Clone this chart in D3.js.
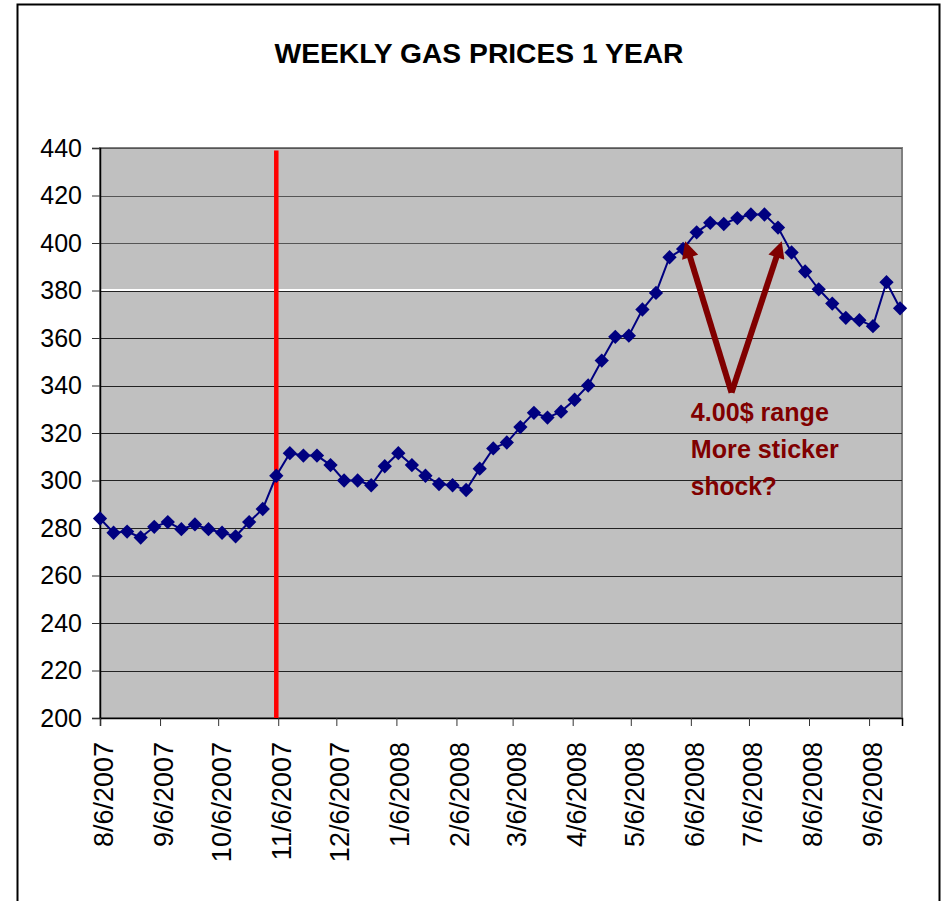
<!DOCTYPE html>
<html>
<head>
<meta charset="utf-8">
<script src="https://cdn.jsdelivr.net/npm/d3@7"></script>
<style>
  body { margin: 0; background: #fff; }
  text { font-family: Arial, "Liberation Sans", sans-serif; }
</style>
</head>
<body>
<div id="chart"></div>
<script>
// chart size
var width = 947, height = 901;
var margin = {top: 148, right: 45, bottom: 183, left: 100};

// weekly prices (cents per gallon), Mondays from 8/6/2007
var startWeek = "2007-08-06";
var prices = [284, 278, 278.5, 276, 280.5, 282.5, 279.5, 281.5, 279.5, 278,
              276.5, 282.5, 288, 302, 311.5, 310.5, 310.5, 306.5, 300, 300,
              298, 306, 311.5, 306.5, 302, 298.5, 298, 296, 305, 313.5,
              316, 322.5, 328.5, 326.5, 329, 334, 340, 350.5, 360.5, 361,
              372, 379, 394, 397.5, 404.5, 408.5, 408, 410.5, 412, 412,
              406.5, 396, 388, 380.5, 374.5, 368.5, 367.5, 365, 383.5, 372.5];

var xTickLabels = ["8/6/2007", "9/6/2007", "10/6/2007", "11/6/2007", "12/6/2007",
                   "1/6/2008", "2/6/2008", "3/6/2008", "4/6/2008", "5/6/2008",
                   "6/6/2008", "7/6/2008", "8/6/2008", "9/6/2008"];
var yTicks = [200, 220, 240, 260, 280, 300, 320, 340, 360, 380, 400, 420, 440];

// annotations
var redLineDate = "2007-11-05";
var redLineTop = 439;
var arrowLeftTip = ["2008-06-03", 401];
var arrowBase = ["2008-06-27", 337];
var arrowRightTip = ["2008-07-23", 401];
var noteAnchor = ["2008-06-06", 325];
var noteLines = ["4.00$ range", "More sticker", "shock?"];
var noteWidths = [138, 148, 86];

var parseDate = d3.timeParse("%Y-%m-%d");
var parseLabel = d3.timeParse("%m/%d/%Y");

var data = prices.map(function(v, i) {
  return {date: d3.timeDay.offset(parseDate(startWeek), i * 7), value: v};
});

var x = d3.scaleTime()
    .domain([parseDate("2007-08-06"), parseDate("2008-09-23")])
    .range([margin.left, width - margin.right]);

var y = d3.scaleLinear()
    .domain([200, 440])
    .range([height - margin.bottom, margin.top]);

var svg = d3.select("#chart")
  .append("svg")
  .attr("width", width)
  .attr("height", height);

// outer chart frame
svg.append("rect")
  .attr("x", 17.5).attr("y", 4.5)
  .attr("width", 922).attr("height", 1000)
  .attr("fill", "#fff")
  .attr("stroke", "#000")
  .attr("stroke-width", 2);

// title
svg.append("text")
  .attr("x", 479).attr("y", 63)
  .attr("text-anchor", "middle")
  .attr("font-size", 28)
  .attr("font-weight", "bold")
  .attr("textLength", 409)
  .attr("lengthAdjust", "spacingAndGlyphs")
  .text("WEEKLY GAS PRICES 1 YEAR");

// plot area
svg.append("rect")
  .attr("x", x.range()[0]).attr("y", y(440))
  .attr("width", x.range()[1] - x.range()[0])
  .attr("height", y(200) - y(440))
  .attr("fill", "#c0c0c0")
  .attr("stroke", "#808080")
  .attr("stroke-width", 2);

// gridlines
svg.append("g")
  .selectAll("line")
  .data(yTicks.filter(function(d) { return d > 200; }))
  .enter().append("line")
  .attr("x1", x.range()[0]).attr("x2", x.range()[1])
  .attr("y1", function(d) { return Math.round(y(d)) + 0.5; })
  .attr("y2", function(d) { return Math.round(y(d)) + 0.5; })
  .attr("stroke", function(d) { return d >= 400 ? "#555" : "#222"; })
  .attr("stroke-width", 1);

// the odd white gridline at 380
svg.append("line")
  .attr("x1", x.range()[0]).attr("x2", x.range()[1])
  .attr("y1", Math.round(y(380)) - 1).attr("y2", Math.round(y(380)) - 1)
  .attr("stroke", "#fff").attr("stroke-width", 2);

// y axis
var yAxis = d3.axisLeft(y)
  .tickValues(yTicks)
  .tickSize(8)
  .tickPadding(10);

var gy = svg.append("g")
  .attr("transform", "translate(" + x.range()[0] + ",0)")
  .call(yAxis);
gy.select(".domain").attr("stroke", "#000").attr("stroke-width", 1.5);
gy.selectAll(".tick line").attr("stroke", "#333");
gy.selectAll("text")
  .attr("font-size", 25)
  .attr("font-family", "Arial, 'Liberation Sans', sans-serif")
  .attr("fill", "#000");

// x axis
var xAxis = d3.axisBottom(x)
  .tickValues(xTickLabels.map(function(s) { return parseLabel(s); }))
  .tickFormat(function(d, i) { return xTickLabels[i]; })
  .tickSize(8);

var gx = svg.append("g")
  .attr("transform", "translate(0," + y(200) + ")")
  .call(xAxis);
gx.select(".domain").attr("stroke", "#000").attr("stroke-width", 1.5);
gx.selectAll(".tick line").attr("stroke", "#333");
gx.selectAll("text")
  .attr("font-size", 27)
  .attr("font-family", "Arial, 'Liberation Sans', sans-serif")
  .attr("fill", "#000")
  .attr("text-anchor", "end")
  .attr("transform", "translate(3,24) rotate(-90)")
  .attr("x", 0).attr("y", 0)
  .attr("dy", "0.35em");

// red marker line
svg.append("line")
  .attr("x1", x(parseDate(redLineDate))).attr("x2", x(parseDate(redLineDate)))
  .attr("y1", y(redLineTop)).attr("y2", y(200))
  .attr("stroke", "#ff0000")
  .attr("stroke-width", 4.5);

// price line
var line = d3.line()
  .x(function(d) { return x(d.date); })
  .y(function(d) { return y(d.value); });

svg.append("path")
  .datum(data)
  .attr("d", line)
  .attr("fill", "none")
  .attr("stroke", "#000080")
  .attr("stroke-width", 2);

// diamond markers
var diamond = d3.symbol().type(d3.symbolDiamond2).size(130);
svg.append("g")
  .selectAll("path")
  .data(data)
  .enter().append("path")
  .attr("d", diamond)
  .attr("transform", function(d) { return "translate(" + x(d.date) + "," + y(d.value) + ")"; })
  .attr("fill", "#000080");

// arrows
var arrowColor = "#800000";
svg.append("defs").append("marker")
  .attr("id", "head")
  .attr("viewBox", "0 0 10 10")
  .attr("refX", 2).attr("refY", 5)
  .attr("markerWidth", 3.3).attr("markerHeight", 2.8)
  .attr("orient", "auto")
  .append("path")
  .attr("d", "M0,0 L10,5 L0,10 Z")
  .attr("fill", arrowColor);

function pt(p) { return [x(parseDate(p[0])), y(p[1])]; }

[arrowLeftTip, arrowRightTip].forEach(function(tip) {
  var b = pt(arrowBase), t = pt(tip);
  // stop the shaft a bit short so the head lands on the tip
  var dx = t[0] - b[0], dy = t[1] - b[1], len = Math.sqrt(dx * dx + dy * dy);
  var k = (len - 14) / len;
  svg.append("line")
    .attr("x1", b[0]).attr("y1", b[1])
    .attr("x2", b[0] + dx * k).attr("y2", b[1] + dy * k)
    .attr("stroke", arrowColor)
    .attr("stroke-width", 6)
    .attr("marker-end", "url(#head)");
});

// annotation text
var note = svg.append("text")
  .attr("x", x(parseDate(noteAnchor[0])))
  .attr("y", y(noteAnchor[1]))
  .attr("font-size", 26)
  .attr("font-weight", "bold")
  .attr("fill", arrowColor);

note.selectAll("tspan")
  .data(noteLines)
  .enter().append("tspan")
  .attr("x", x(parseDate(noteAnchor[0])))
  .attr("dy", function(d, i) { return i === 0 ? 0 : 37; })
  .attr("textLength", function(d, i) { return noteWidths[i]; })
  .attr("lengthAdjust", "spacingAndGlyphs")
  .text(function(d) { return d; });
</script>
</body>
</html>
